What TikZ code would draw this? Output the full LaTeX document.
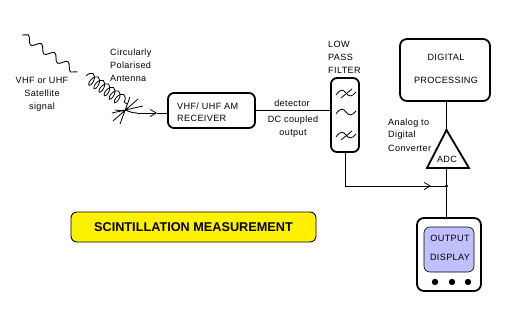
\documentclass[tikz,border=0pt]{standalone}
\usepackage{fontspec}
\setmainfont{Liberation Sans}
\usetikzlibrary{arrows.meta,decorations.pathmorphing}
\tikzset{
  wire/.style={line width=0.9pt,draw=black},
  heavy/.style={line width=1.8pt,draw=black,rounded corners=6pt,inner sep=0pt,outer sep=0pt},
  lbl/.style={font=\fontsize{9.1}{10}\selectfont\addfontfeatures{LetterSpace=4},inner sep=0pt,text=black},
  lbll/.style={lbl,anchor=west},
  openarrow/.style={-{Straight Barb[length=6pt,width=7pt,line width=0.8pt]}},
  filtersym/.style={line width=0.8pt,draw=black},
}
\begin{document}
\begin{tikzpicture}[x=1pt,y=-1pt]
\useasboundingbox (0,0) rectangle (507,314);
\fill[white] (0,0) rectangle (507,314);

% incoming signal and helical antenna
\coordinate (sigstart) at (22,35);
\coordinate (sigend) at (77,72);
\coordinate (helixstart) at (86,76);
\coordinate (helixend) at (127,104);
\coordinate (feed) at (125,110);
\draw[wire,decorate,decoration={snake,amplitude=3.6pt,segment length=16pt}] (sigstart) -- (sigend);
\draw[wire,line width=0.8pt,decorate,decoration={coil,aspect=0.5,amplitude=6pt,segment length=6.2pt}] (helixstart) -- (helixend);
\draw[wire,line width=0.8pt] (113,121) -- (138,99) (120,124) -- (130,97) (112,113) -- (143,106);
\draw[wire,line width=0.8pt] (115,110) -- (124,111);

% block nodes
\node[heavy,draw,minimum width=87pt,minimum height=35pt] (rx) at (211.5,110.5) {};
\node[heavy,draw,minimum width=28pt,minimum height=74pt] (lpf) at (345,115) {};
\node[heavy,draw,minimum width=90pt,minimum height=62pt,rounded corners=7pt] (dsp) at (445,70) {};
\node[heavy,draw,minimum width=64pt,minimum height=73pt,rounded corners=7pt] (disp) at (449,254.5) {};
\node[draw=black,line width=0.6pt,fill={rgb,255:red,192;green,192;blue,255},rounded corners=6pt,minimum width=50pt,minimum height=45pt,inner sep=0pt,outer sep=0pt] (screen) at (449,249.5) {};
\node[draw=black,line width=0.9pt,fill=yellow,rounded corners=6pt,minimum width=245pt,minimum height=30pt,inner sep=0pt] (title) at (193.5,227)
  {\fontsize{12.7}{14}\selectfont\bfseries SCINTILLATION MEASUREMENT};

% display buttons
\foreach \px/\nm in {435/a,452/b,468/c}
  \fill (\px,282) circle (3.2pt);

% analog to digital converter
\coordinate (adctop) at (446.5,130);
\coordinate (adcbase) at (446.5,168);
\draw[line width=1.8pt,line join=miter] (adctop) -- (469,168) -- (427,168) -- cycle;
\node[lbl] (adc) at (447,159) {ADC};

% connectors
\coordinate (split) at (446.5,186);
\coordinate (bend) at (lpf.south |- split);
\coordinate (dish) at (137,113);
\draw[wire] (feed) .. controls (129,111) and (131,113) .. (dish);
\draw[wire,openarrow] (dish) -- (157,113);
\draw[wire] (157,113) -- (rx.west |- 0,113);
\draw[wire] (rx.east) -- (rx.east -| lpf.west);
\draw[wire] (lpf.south) -- (bend) -- (split);
\draw[wire,openarrow] (bend) -- (431,186);
\draw[wire] (dsp.south -| adctop) -- (adctop);
\draw[wire] (adcbase) -- (adcbase |- disp.north);
\fill (split) circle (1.6pt);
\fill (adctop) circle (1.2pt);

% filter response symbols
\foreach \yy in {93,112,135}
  \draw[filtersym] (336,\yy+2) .. controls (340,\yy-4) and (343,\yy-4) .. (346,\yy) .. controls (349,\yy+4) and (352,\yy+4) .. (356,\yy-1);
\draw[filtersym] (341,98) -- (352,89);
\draw[filtersym] (341,140) -- (352,131);

% labels
\node[lbl] (s1) at (42,80) {VHF or UHF};
\node[lbl] (s2) at (42,93) {Satellite};
\node[lbl] (s3) at (42,107) {signal};
\node[lbll] (a1) at (110,53) {Circularly};
\node[lbll] (a2) at (110,65.5) {Polarised};
\node[lbll] (a3) at (110,78) {Antenna};
\node[lbll] (r1) at (177,106) {VHF/ UHF AM};
\node[lbll] (r2) at (177,118.5) {RECEIVER};
\node[lbl] (d1) at (292,103) {detector};
\node[lbl] (d2) at (293,120) {DC coupled};
\node[lbl] (d3) at (293,133) {output};
\node[lbll] (f1) at (328,44) {LOW};
\node[lbll] (f2) at (328,57) {PASS};
\node[lbll] (f3) at (328,70) {FILTER};
\node[lbl] (p1) at (446,57) {DIGITAL};
\node[lbl] (p2) at (446,80) {PROCESSING};
\node[lbll] (c1) at (388,123) {Analog to};
\node[lbll] (c2) at (388,135.5) {Digital};
\node[lbll] (c3) at (388,148) {Converter};
\node[lbl] (o1) at (450,238) {OUTPUT};
\node[lbl] (o2) at (450,257) {DISPLAY};
\end{tikzpicture}
\end{document}
